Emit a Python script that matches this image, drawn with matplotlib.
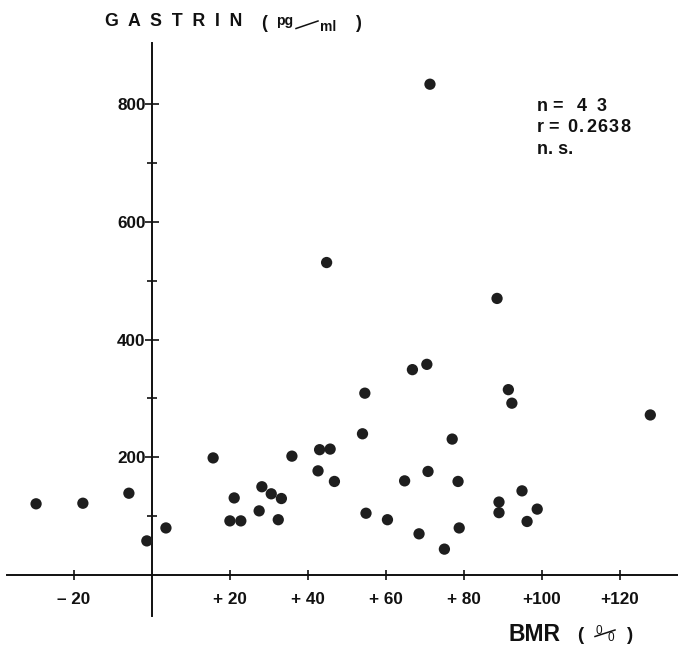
import matplotlib
matplotlib.use("Agg")
import matplotlib.pyplot as plt
from matplotlib import font_manager
from matplotlib.lines import Line2D
from matplotlib.ticker import FixedLocator

# ---- data ----
bmr = [-29.6, -17.6, -5.8, -1.2, 3.7, 15.8, 21.2, 20.1, 22.9, 27.6, 28.3,
       30.7, 33.3, 32.5, 36.0, 42.7, 43.1, 45.8, 46.9, 54.1, 54.7, 55.0,
       60.5, 44.9, 88.6, 66.9, 70.6, 91.5, 92.4, 127.9, 77.1, 70.9, 64.9,
       78.6, 95.0, 89.1, 89.1, 98.9, 96.3, 68.6, 78.9, 75.1, 71.4]
gastrin = [121, 122, 139, 58, 80, 199, 131, 92, 92, 109, 150,
           138, 130, 94, 202, 177, 213, 214, 159, 240, 309, 105,
           94, 531, 470, 349, 358, 315, 292, 272, 231, 176, 160,
           159, 143, 124, 106, 112, 91, 70, 80, 44, 834]

y_major = [200, 400, 600, 800]
y_major_labels = ["200", "400", "600", "800"]
y_minor = [100, 300, 500, 700]
x_ticks = [-20, 20, 40, 60, 80, 100, 120]
x_tick_labels = ["\u2013 20", "+ 20", "+ 40", "+ 60", "+ 80", "+100", "+120"]

# statistics text pieces: (text, left px, baseline px)
stats_pieces = [("n =", 537, 111), ("4", 577, 111), ("3", 597, 111),
                ("r =", 537, 131.5), ("0", 567, 131.5), (".", 579, 131.5),
                ("2", 586, 131.5), ("6", 597.5, 131.5), ("3", 609, 131.5),
                ("8", 620.5, 131.5),
                ("n. s.", 537, 154)]

# ---- fonts ----
avail = {f.name for f in font_manager.fontManager.ttflist}
MAIN = "Liberation Sans"
NARROW = "Liberation Sans Narrow" if "Liberation Sans Narrow" in avail else "Liberation Sans"
plt.rcParams["font.family"] = [MAIN, "DejaVu Sans"]

W, H = 678, 647
fig = plt.figure(figsize=(W / 100, H / 100), dpi=100)
ax = fig.add_axes([0, 0, 1, 1])
ax.set_xlim(-38.85, 135.0)
ax.set_ylim(-122.3, 977.1)

for s in ("top", "right"):
    ax.spines[s].set_visible(False)
ax.spines["left"].set_position(("data", 0))
ax.spines["bottom"].set_position(("data", 0))
ax.spines["left"].set_bounds(-70, 904)
ax.spines["bottom"].set_bounds(-37, 135)
for s in ("left", "bottom"):
    ax.spines[s].set_linewidth(1.4)
    ax.spines[s].set_color("#111111")

ax.yaxis.set_major_locator(FixedLocator(y_major))
ax.yaxis.set_minor_locator(FixedLocator(y_minor))
ax.set_yticklabels(y_major_labels)
ax.set_xticks(x_ticks)
ax.set_xticklabels(x_tick_labels)

ax.tick_params(axis="y", which="major", direction="inout", length=10.5,
               width=1.2, pad=-1, labelsize=12.3, colors="#111111")
ax.tick_params(axis="y", which="minor", direction="inout", length=7,
               width=1.2, colors="#111111")
ax.tick_params(axis="x", which="major", direction="inout", length=7,
               width=1.2, pad=9, labelsize=12.3, colors="#111111")
for lab in ax.get_xticklabels() + ax.get_yticklabels():
    lab.set_fontweight("bold")

ax.scatter(bmr, gastrin, s=66, color="#1e1e1e", edgecolors="none",
           zorder=5, clip_on=False)


def fx(px):
    return px / W


def fy(py):
    return 1 - py / H


# Y axis title: GASTRIN ( pg/ml )
fig.text(fx(105), fy(26), "G  A  S  T  R  I  N", fontsize=12.8,
         fontweight="bold", ha="left", va="baseline", color="#111111")
fig.text(fx(261), fy(28.5), "(", fontsize=12.8, fontweight="bold",
         ha="left", va="baseline", color="#111111")
fig.text(fx(276), fy(24.5), "pg", fontsize=10, fontweight="bold",
         ha="left", va="baseline", color="#111111")
fig.add_artist(Line2D([fx(296), fx(318)], [fy(28.5), fy(21)], lw=1.1,
                      color="#111111"))
fig.text(fx(320), fy(31), "ml", fontsize=10, fontweight="bold",
         ha="left", va="baseline", color="#111111")
fig.text(fx(356), fy(28.5), ")", fontsize=12.8, fontweight="bold",
         ha="left", va="baseline", color="#111111")

# X axis title: BMR ( % )
fig.text(fx(509), fy(641), "BMR", fontsize=16.5, fontweight="bold",
         ha="left", va="baseline", color="#111111")
fig.text(fx(577), fy(640), "(", fontsize=13.5, fontweight="bold",
         ha="left", va="baseline", color="#111111")
fig.text(fx(596), fy(634), "0", fontsize=8.5, fontweight="normal",
         ha="left", va="baseline", color="#111111")
fig.add_artist(Line2D([fx(595), fx(615)], [fy(636.5), fy(630)], lw=1.1,
                      color="#111111"))
fig.text(fx(607.5), fy(641), "0", fontsize=8.5, fontweight="normal",
         ha="left", va="baseline", color="#111111")
fig.text(fx(627), fy(640), ")", fontsize=13.5, fontweight="bold",
         ha="left", va="baseline", color="#111111")

# statistics
for txt, left, base in stats_pieces:
    fig.text(fx(left), fy(base), txt, fontsize=13, fontweight="bold",
             family=[NARROW, "DejaVu Sans"], ha="left", va="baseline",
             color="#111111")

fig.savefig("out.png", dpi=100, facecolor="white")
